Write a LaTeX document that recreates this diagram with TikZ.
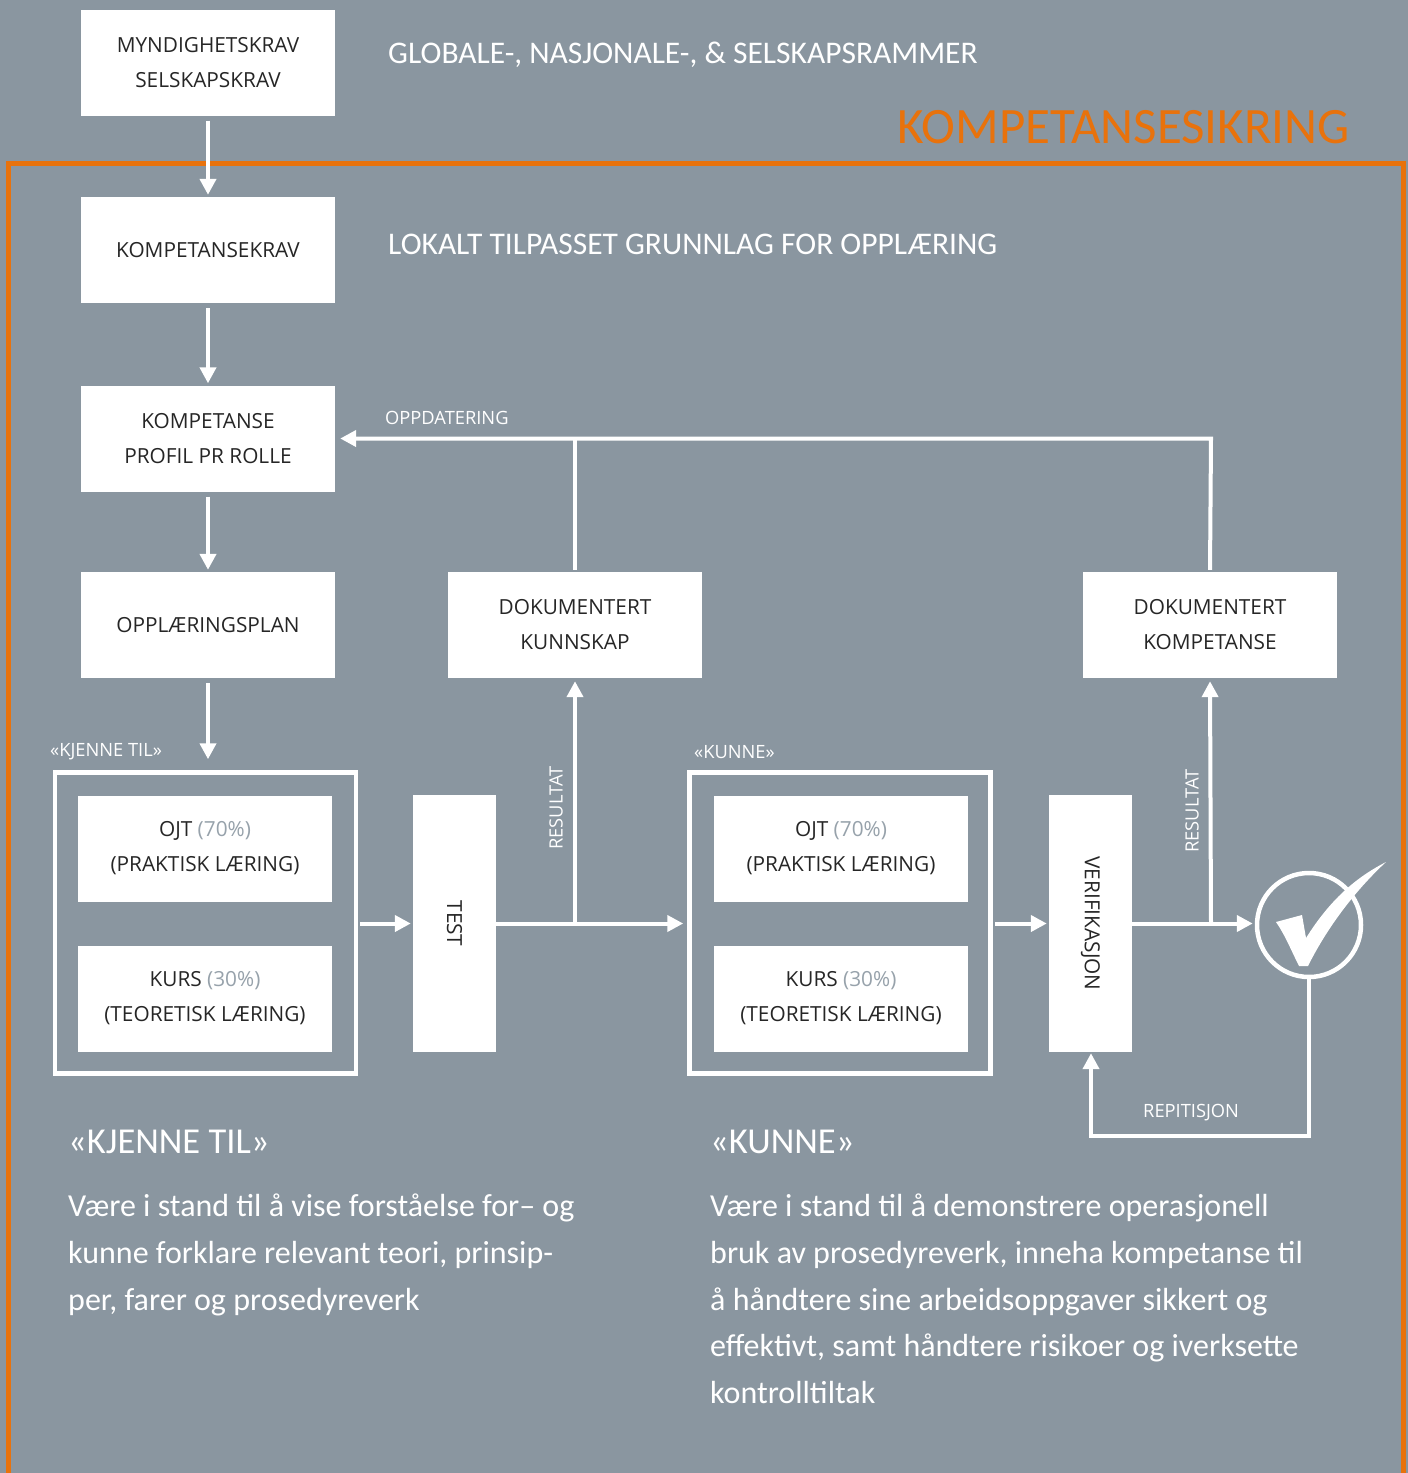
\documentclass[tikz,border=0pt]{standalone}
\usepackage{fontspec}
\setmainfont{Carlito}
\newfontfamily\boxfont{Open Sans}
\usetikzlibrary{arrows.meta}
\definecolor{bggrey}{HTML}{8A96A0}
\definecolor{pctgrey}{HTML}{97A2AB}
\definecolor{frameorange}{HTML}{E8720C}
\tikzset{
  box/.style={fill=white, inner sep=0pt, minimum width=254pt, minimum height=106pt,
    align=center, text=black!85, font=\boxfont\fontsize{20.8}{35}\selectfont},
  group/.style={draw=white, line width=4.5pt, minimum width=301pt, minimum height=301pt, inner sep=0pt},
  flow/.style={draw=white, line width=4pt, shorten <=5pt, shorten >=2pt,
    -{Triangle[length=16pt,width=16pt]}},
  link/.style={draw=white, line width=4pt},
  tag/.style={text=white, inner sep=0pt, font=\boxfont\fontsize{18.3}{20}\selectfont},
  heading/.style={text=white, inner sep=0pt, anchor=west, font=\fontsize{31.5}{34}\selectfont},
  bodytext/.style={text=white, inner sep=0pt, anchor=north west, align=left,
    font=\fontsize{32}{46.7}\selectfont},
}

\begin{document}
\begin{tikzpicture}[x=1pt, y=-1pt]
        \useasboundingbox (0,0) rectangle (1408,1473);
        \fill[bggrey] (0,0) rectangle (1408,1473);
        \draw[frameorange, line width=5pt] (8,1500) -- (8,163.5) -- (1403,163.5) -- (1403,1500);
        \node[text=frameorange, inner sep=0pt, anchor=east, font=\fontsize{51}{60}\selectfont] (title) at (1350,127) {KOMPETANSESIKRING};

        % left column
        \node[box] (myndighet) at (208,62.5) {MYNDIGHETSKRAV\\SELSKAPSKRAV};
        \node[box] (kompkrav) at (208,250) {KOMPETANSEKRAV};
        \node[box] (profil) at (208,438.5) {KOMPETANSE\\PROFIL PR ROLLE};
        \node[box] (plan) at (208,625) {OPPLÆRINGSPLAN};
        \node[heading] (global) at (388,55) {GLOBALE-, NASJONALE-, \& SELSKAPSRAMMER};
        \node[heading] (lokalt) at (388,244) {LOKALT TILPASSET GRUNNLAG FOR OPPLÆRING};

        % kjenne til
        \node[group] (kjenne) at (205.5,923) {};
        \node[tag, anchor=west] (kjennetag) at (50,752) {«KJENNE TIL»};
        \node[box] (ojta) at (205,848.5) {OJT \textcolor{pctgrey}{(70\%)}\\(PRAKTISK LÆRING)};
        \node[box] (kursa) at (205,998.5) {KURS \textcolor{pctgrey}{(30\%)}\\(TEORETISK LÆRING)};
        \node[box, minimum width=257pt, minimum height=83pt, rotate=-90] (test) at (454.5,923.5) {TEST};

        % kunne
        \node[group] (kunne) at (840,923) {};
        \node[tag, anchor=west] (kunnetag) at (694,752) {«KUNNE»};
        \node[box] (ojtb) at (841,848.5) {OJT \textcolor{pctgrey}{(70\%)}\\(PRAKTISK LÆRING)};
        \node[box] (kursb) at (841,998.5) {KURS \textcolor{pctgrey}{(30\%)}\\(TEORETISK LÆRING)};
        \node[box, minimum width=257pt, minimum height=83pt, rotate=-90] (verif) at (1090.5,923.5) {VERIFIKASJON};

        \node[box] (dokkunn) at (575,625) {DOKUMENTERT\\KUNNSKAP};
        \node[box] (dokkomp) at (1210,625) {DOKUMENTERT\\KOMPETANSE};
        \node[circle, draw=white, line width=4.5pt, minimum size=104pt, inner sep=0pt] (ok) at (1309,925) {};
        \fill[white] (1276,922) -- (1302,915) -- (1306,938)
            .. controls (1330,900) and (1355,878) .. (1386,862)
            .. controls (1360,886) and (1330,922) .. (1308,966) -- (1299,966)
            .. controls (1291,950) and (1285,935) .. cycle;

        \coordinate (jres1) at (575,923.5);
        \coordinate (jres2) at (1211,923.5);
        \coordinate (topright) at (1211,438.5);
        \coordinate (rep) at (1091,1136);

        % connectors
        \draw[flow] (myndighet.south) -- (kompkrav.north);
        \draw[flow] (kompkrav.south) -- (profil.north);
        \draw[flow] (profil.south) -- (plan.north);
        \draw[flow, shorten >=11pt] (plan.south) -- (plan.south |- kjenne.north);
        \draw[flow, shorten <=2pt] (kjenne.east |- test.south) -- (test.south);
        \draw[flow, shorten <=0pt, shorten >=4pt] (test.north) -- (test.north -| kunne.west);
        \draw[flow, shorten <=2pt] (kunne.east |- verif.south) -- (verif.south);
        \draw[flow, shorten <=0pt] (verif.north) -- (verif.north -| ok.west);
        \draw[flow, shorten <=0pt, shorten >=3pt] (jres1) -- (dokkunn.south);
        \draw[flow, shorten <=0pt, shorten >=3pt] (jres2) -- (dokkomp.south);
        \draw[link, shorten <=2pt] (dokkunn.north) -- (dokkunn.north |- topright);
        \draw[flow, shorten <=2pt, shorten >=5pt] (dokkomp.north) -- (topright) -- (profil.east);
        \draw[flow, shorten <=0pt, shorten >=1pt] (ok.south) |- (rep) -- (rep |- verif.east);

        % labels
        \node[tag, anchor=west] (oppd) at (385,418) {OPPDATERING};
        \node[tag, rotate=90] (resa) at (556,808) {RESULTAT};
        \node[tag, rotate=90] (resb) at (1192,811) {RESULTAT};
        \node[tag, anchor=west] (repl) at (1143,1113) {REPITISJON};

        % text
        \node[heading, font=\fontsize{36.5}{40}\selectfont] (kjennehead) at (68,1142) {«KJENNE TIL»};
        \node[heading, font=\fontsize{36.5}{40}\selectfont] (kunnehead) at (710,1142) {«KUNNE»};
        \node[bodytext] (kjennebody) at (68,1194) {Være i stand til å vise forståelse for– og\\kunne forklare relevant teori, prinsip-\\per, farer og prosedyreverk};
        \node[bodytext] (kunnebody) at (710,1194) {Være i stand til å demonstrere operasjonell\\bruk av prosedyreverk, inneha kompetanse til\\å håndtere sine arbeidsoppgaver sikkert og\\effektivt, samt håndtere risikoer og iverksette\\kontrolltiltak};
    \end{tikzpicture}
\end{document}
